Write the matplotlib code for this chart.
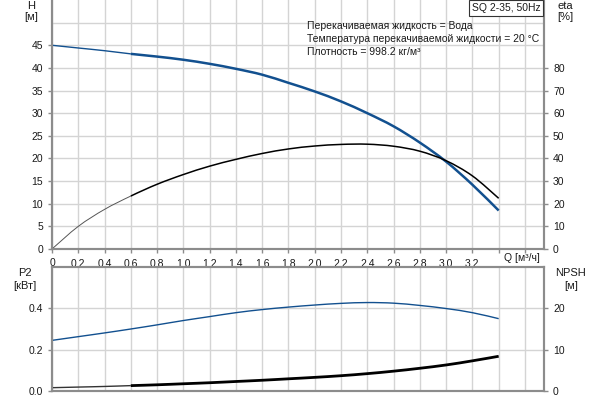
import matplotlib
matplotlib.use("Agg")
import matplotlib.pyplot as plt
from matplotlib.path import Path
from matplotlib.patches import PathPatch
import numpy as np

plt.rcParams['font.family'] = ['Liberation Sans', 'DejaVu Sans']

# ---- data ----
q = [0.0, 0.2, 0.4, 0.6, 0.8, 1.0, 1.2, 1.4, 1.6, 1.8, 2.0, 2.2, 2.4, 2.6, 2.8, 3.0, 3.2, 3.4]
head = [45.0, 44.4, 43.8, 43.1, 42.5, 41.8, 40.9, 39.8, 38.5, 36.7, 34.8, 32.6, 30.0, 27.1, 23.5, 19.3, 14.2, 8.5]
eta = [0.0, 10.0, 17.5, 23.4, 28.6, 32.9, 36.6, 39.6, 42.2, 44.2, 45.5, 46.2, 46.3, 45.4, 43.2, 39.0, 32.3, 22.4]
p2 = [0.245, 0.263, 0.281, 0.300, 0.320, 0.341, 0.360, 0.379, 0.394, 0.406, 0.416, 0.424, 0.428, 0.425, 0.414, 0.399, 0.379, 0.350]
npsh = [0.8, 0.95, 1.1, 1.3, 1.5, 1.75, 2.0, 2.3, 2.6, 2.95, 3.3, 3.7, 4.2, 4.8, 5.5, 6.3, 7.3, 8.4]

x_ticks = [0.0, 0.2, 0.4, 0.6, 0.8, 1.0, 1.2, 1.4, 1.6, 1.8, 2.0, 2.2, 2.4, 2.6, 2.8, 3.0, 3.2, 3.4, 3.6]
x_labels = ['0', '0,2', '0,4', '0,6', '0,8', '1,0', '1,2', '1,4', '1,6', '1,8', '2,0', '2,2', '2,4', '2,6', '2,8', '3,0', '3,2', '', '']
h_ticks = [0, 5, 10, 15, 20, 25, 30, 35, 40, 45]
eta_ticks = [0, 10, 20, 30, 40, 50, 60, 70, 80]
p2_ticks = [0.0, 0.2, 0.4]
npsh_ticks = [0, 10, 20]

title_box = 'SQ 2-35, 50Hz'
info_lines = ['Перекачиваемая жидкость = Вода',
              'Температура перекачиваемой жидкости = 20 °C',
              'Плотность = 998.2 кг/м³']

BLUE = '#12508f'
GRID = '#d4d4d4'
SPINE = '#8c8c8c'
TXT = '#1a1a1a'
FS = 7.5
SPLIT = 3  # index of Q = 0.6, where the thin part ends


def smooth(ax, xs, ys, i0, i1, **kw):
    """Smooth (Catmull-Rom as cubic Bezier) curve through points i0..i1,
    tangents taken from the full series."""
    xs = np.asarray(xs, float)
    ys = np.asarray(ys, float)
    n = len(xs)
    verts = [(xs[i0], ys[i0])]
    codes = [Path.MOVETO]
    for i in range(i0, i1):
        a = max(i - 1, 0)
        d = min(i + 2, n - 1)
        c1 = (xs[i] + (xs[i + 1] - xs[a]) / 6, ys[i] + (ys[i + 1] - ys[a]) / 6)
        c2 = (xs[i + 1] - (xs[d] - xs[i]) / 6, ys[i + 1] - (ys[d] - ys[i]) / 6)
        verts += [c1, c2, (xs[i + 1], ys[i + 1])]
        codes += [Path.CURVE4] * 3
    ax.add_patch(PathPatch(Path(verts, codes), fill=False, capstyle='butt', **kw))


fig = plt.figure(figsize=(6, 4), dpi=100)
XMAX = 3.745
N = len(q) - 1


def style(ax):
    for s in ax.spines.values():
        s.set_color(SPINE)
        s.set_linewidth(1.5)
    ax.tick_params(colors=SPINE, labelcolor=TXT, labelsize=FS, length=3, width=1)


# ---- top axes ----
ax = fig.add_axes([52/600, 1 - 249/400, 492/600, 249/400])
ax.set_xlim(0, XMAX)
ax.set_ylim(0, 55)
ax.set_xticks(x_ticks)
ax.set_xticklabels(x_labels)
ax.set_yticks(h_ticks)
ax.grid(True, color=GRID, linewidth=1)
ax.axhline(50, color=GRID, linewidth=1, zorder=0.5)
ax.set_axisbelow(True)
style(ax)
ax.spines['top'].set_visible(False)

smooth(ax, q, head, 0, SPLIT, edgecolor=BLUE, lw=1.0)
smooth(ax, q, head, SPLIT, N, edgecolor=BLUE, lw=1.8)

ax2 = ax.twinx()
ax2.set_ylim(0, 110)
ax2.set_yticks(eta_ticks)
style(ax2)
ax2.spines['top'].set_visible(False)
smooth(ax2, q, eta, 0, SPLIT, edgecolor='#555555', lw=0.7)
smooth(ax2, q, eta, SPLIT, N, edgecolor='black', lw=1.1)

fig.text(31/600, 1 - 6/400, 'H', ha='center', va='center', fontsize=8, color=TXT)
fig.text(31/600, 1 - 17/400, '[м]', ha='center', va='center', fontsize=8, color=TXT)
fig.text(565/600, 1 - 6/400, 'eta', ha='center', va='center', fontsize=8, color=TXT)
fig.text(565/600, 1 - 17/400, '[%]', ha='center', va='center', fontsize=8, color=TXT)
fig.text(522/600, 1 - 258/400, 'Q [м³/ч]', ha='center', va='center', fontsize=FS, color=TXT)

fig.text(472/600, 1 - 8/400, title_box, ha='left', va='center', fontsize=7.5, color=TXT,
         bbox=dict(boxstyle='square,pad=0.25', fc='white', ec='#333333', lw=0.8))
for i, line in enumerate(info_lines):
    fig.text(307/600, 1 - (26 + 13 * i)/400, line, ha='left', va='center', fontsize=7.5, color=TXT)

# ---- bottom axes ----
bx = fig.add_axes([52/600, 9/400, 492/600, 124/400])
bx.set_xlim(0, XMAX)
bx.set_ylim(0, 0.6)
bx.set_xticks(x_ticks)
bx.set_xticklabels([])
bx.set_yticks(p2_ticks)
bx.set_yticklabels(['0.0', '0.2', '0.4'])
bx.grid(True, color=GRID, linewidth=1)
bx.set_axisbelow(True)
style(bx)
bx.tick_params(axis='x', length=0)

smooth(bx, q, p2, 0, N, edgecolor=BLUE, lw=1.0)

bx2 = bx.twinx()
bx2.set_ylim(0, 30)
bx2.set_yticks(npsh_ticks)
style(bx2)
smooth(bx2, q, npsh, 0, SPLIT, edgecolor='#333333', lw=1.0)
smooth(bx2, q, npsh, SPLIT, N, edgecolor='black', lw=2.0)

fig.text(25/600, 1 - 273/400, 'P2', ha='center', va='center', fontsize=8, color=TXT)
fig.text(25/600, 1 - 286/400, '[кВт]', ha='center', va='center', fontsize=8, color=TXT)
fig.text(571/600, 1 - 273/400, 'NPSH', ha='center', va='center', fontsize=8, color=TXT)
fig.text(571/600, 1 - 286/400, '[м]', ha='center', va='center', fontsize=8, color=TXT)

fig.savefig('out.png', dpi=100)
